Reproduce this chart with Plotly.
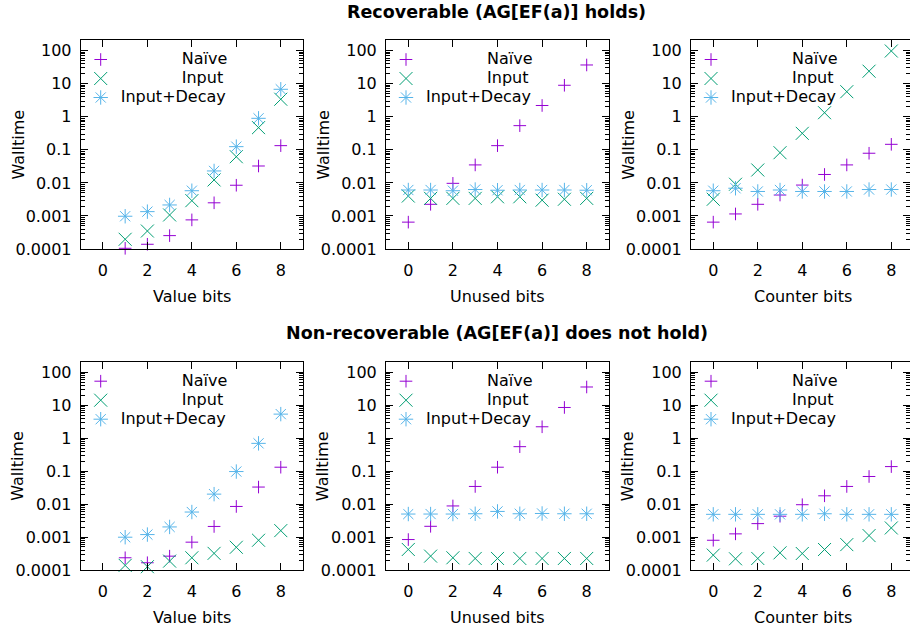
import plotly.graph_objects as go

# ---------------- data ----------------
x_value = [1, 2, 3, 4, 5, 6, 7, 8]
x_unused = [0, 1, 2, 3, 4, 5, 6, 7, 8]
x_counter = [0, 1, 2, 3, 4, 5, 6, 7, 8]

series_names = ["Naïve", "Input", "Input+Decay"]
row_titles = ["Recoverable (AG[EF(a)] holds)", "Non-recoverable (AG[EF(a)] does not hold)"]
x_titles = ["Value bits", "Unused bits", "Counter bits"]
y_title = "Walltime"
y_tickvals = [1e-4, 1e-3, 1e-2, 1e-1, 1, 10, 100]
y_ticktext = ["0.0001", "0.001", "0.01", "0.1", "1", "10", "100"]
x_tickvals = [0, 2, 4, 6, 8]

rec_value_naive = [1.05e-4, 1.39e-4, 2.54e-4, 7.6e-4, 2.5e-3, 8.5e-3, 0.0325, 0.134]
rec_value_input = [1.97e-4, 3.5e-4, 1.07e-3, 2.9e-3, 0.0123, 0.062, 0.47, 3.4]
rec_value_decay = [9.8e-4, 1.35e-3, 2.15e-3, 5.8e-3, 0.023, 0.125, 0.9, 6.8]

rec_unused_naive = [6.5e-4, 2.25e-3, 9.7e-3, 0.035, 0.134, 0.54, 2.2, 9.0, 37]
rec_unused_input = [4.0e-3, 3.4e-3, 3.4e-3, 3.4e-3, 3.8e-3, 3.8e-3, 3.0e-3, 3.2e-3, 3.4e-3]
rec_unused_decay = [6.1e-3, 6.1e-3, 5.8e-3, 6.3e-3, 6.0e-3, 6.1e-3, 6.1e-3, 6.1e-3, 6.0e-3]

rec_counter_naive = [6.5e-4, 1.15e-3, 2.25e-3, 4.3e-3, 8.6e-3, 0.018, 0.035, 0.079, 0.147]
rec_counter_input = [3.2e-3, 9.1e-3, 0.0246, 0.082, 0.316, 1.33, 5.75, 24, 98]
rec_counter_decay = [5.8e-3, 6.9e-3, 5.5e-3, 6.1e-3, 5.5e-3, 5.5e-3, 5.5e-3, 6.3e-3, 6.3e-3]

non_value_naive = [2.35e-4, 1.66e-4, 2.63e-4, 7.0e-4, 2.1e-3, 8.5e-3, 0.033, 0.132]
non_value_input = [1.38e-4, 1.26e-4, 1.86e-4, 2.35e-4, 3.2e-4, 4.9e-4, 8.0e-4, 1.57e-3]
non_value_decay = [9.9e-4, 1.19e-3, 2.03e-3, 5.75e-3, 0.0201, 0.0975, 0.7, 5.4]

non_unused_naive = [8.4e-4, 2.12e-3, 8.8e-3, 0.0344, 0.132, 0.555, 2.23, 8.6, 36]
non_unused_input = [4.2e-4, 2.64e-4, 2.35e-4, 2.24e-4, 2.24e-4, 2.24e-4, 2.24e-4, 2.24e-4, 2.24e-4]
non_unused_decay = [5.0e-3, 5.0e-3, 5.0e-3, 5.1e-3, 6.0e-3, 5.1e-3, 5.2e-3, 5.1e-3, 5.1e-3]

non_counter_naive = [8.0e-4, 1.25e-3, 2.56e-3, 4.3e-3, 9.6e-3, 0.0179, 0.0344, 0.069, 0.138]
non_counter_input = [2.83e-4, 2.19e-4, 2.24e-4, 3.32e-4, 3.17e-4, 4.19e-4, 5.9e-4, 1.11e-3, 1.89e-3]
non_counter_decay = [4.9e-3, 4.9e-3, 4.9e-3, 4.9e-3, 4.9e-3, 5.1e-3, 4.9e-3, 4.9e-3, 4.9e-3]

panels = [
    (x_value, [rec_value_naive, rec_value_input, rec_value_decay]),
    (x_unused, [rec_unused_naive, rec_unused_input, rec_unused_decay]),
    (x_counter, [rec_counter_naive, rec_counter_input, rec_counter_decay]),
    (x_value, [non_value_naive, non_value_input, non_value_decay]),
    (x_unused, [non_unused_naive, non_unused_input, non_unused_decay]),
    (x_counter, [non_counter_naive, non_counter_input, non_counter_decay]),
]

# ---------------- style ----------------
W, H = 910, 631
FONT = "DejaVu Sans"
colors = ["#9400D3", "#009E73", "#56B4E9"]
symbols = ["cross-thin", "x-thin", "asterisk"]
sizes = [9, 13, 12]
# right-justify legend labels (gnuplot style) by padding
pads = [12, 12, 0]

col_px = [(80.7, 303.0), (386.0, 609.0), (691.0, 910.0)]
row_px = [(40.0, 249.0), (361.7, 570.0)]
xranges = [[-1, 9], [-1, 9], [-1, 8.84]]
yrange = [-4, 2.324]

def px_x(p):
    return p / W

def px_y(p):
    return 1 - p / H

minor_vals = [m * 10 ** e for e in range(-4, 3) for m in range(2, 10)]

fig = go.Figure()
layout = dict(
    width=W, height=H, autosize=False,
    margin=dict(l=0, r=0, t=0, b=0, pad=0, autoexpand=False),
    paper_bgcolor="white", plot_bgcolor="white",
    font=dict(family=FONT, size=16, color="black"),
    showlegend=True,
    annotations=[],
)

for i, (xs, ys_list) in enumerate(panels):
    r, c = divmod(i, 3)
    n = i + 1
    xa = "xaxis" if n == 1 else f"xaxis{n}"
    ya = "yaxis" if n == 1 else f"yaxis{n}"
    xref = "x" if n == 1 else f"x{n}"
    yref = "y" if n == 1 else f"y{n}"
    lg = "legend" if n == 1 else f"legend{n}"
    x0, x1 = col_px[c]
    yt, yb = row_px[r]
    for k, ys in enumerate(ys_list):
        label = "\u00a0" * pads[k] + series_names[k]
        fig.add_trace(go.Scatter(
            x=xs, y=ys, mode="markers", name=f'<span style="font-size:16px">{label}</span>',
            xaxis=xref, yaxis=yref, legend=lg, cliponaxis=False,
            marker=dict(symbol=symbols[k], size=sizes[k], color=colors[k],
                        line=dict(color=colors[k], width=1)),
        ))
    layout[xa] = dict(
        domain=[px_x(x0), min(1.0, px_x(x1))], anchor=yref, range=xranges[c],
        showline=True, linecolor="black", linewidth=1, mirror="ticks",
        ticks="inside", ticklen=7, tickcolor="black", tickwidth=1,
        tickvals=x_tickvals, showgrid=False, zeroline=False, automargin=False,
        tickfont=dict(family=FONT, size=16), ticklabelstandoff=7,
    )
    layout[ya] = dict(
        domain=[px_y(yb), px_y(yt)], anchor=xref, type="log", range=yrange,
        showline=True, linecolor="black", linewidth=1, mirror="ticks",
        ticks="inside", ticklen=7, tickcolor="black", tickwidth=1,
        tickvals=y_tickvals, ticktext=y_ticktext, showgrid=False, zeroline=False,
        automargin=False,
        tickfont=dict(family=FONT, size=16), ticklabelstandoff=5,
        minor=dict(tickvals=minor_vals, ticks="inside", ticklen=4,
                   tickcolor="black", showgrid=False),
    )
    layout[lg] = dict(
        x=px_x(x0), y=px_y(yt + 5), xanchor="left", yanchor="top",
        bgcolor="rgba(0,0,0,0)", borderwidth=0,
        font=dict(family=FONT, size=12, color="black"),
        tracegroupgap=0, itemclick=False, itemdoubleclick=False,
    )
    # axis titles
    layout["annotations"].append(dict(
        text=y_title, xref="paper", yref="paper",
        x=px_x(x0 - 62.7), y=px_y((yt + yb) / 2), xanchor="center", yanchor="middle",
        textangle=-90, showarrow=False, font=dict(family=FONT, size=16),
    ))
    layout["annotations"].append(dict(
        text=x_titles[c], xref="paper", yref="paper",
        x=px_x((x0 + col_px[c][0] + 223) / 2), y=px_y(yb + 47), xanchor="center", yanchor="middle",
        showarrow=False, font=dict(family=FONT, size=16),
    ))

for r, title in enumerate(row_titles):
    ty = [11.5, 332.5][r]
    layout["annotations"].append(dict(
        text=f"<b>{title}</b>", xref="paper", yref="paper",
        x=px_x(497), y=px_y(ty), xanchor="center", yanchor="middle",
        showarrow=False, font=dict(family=FONT, size=17.5),
    ))

fig.update_layout(**layout)
fig.write_html(
    "out.html",
    config={"responsive": False, "displayModeBar": False, "staticPlot": True},
    post_script="document.body.style.margin='0';document.body.style.overflow='hidden';",
)
